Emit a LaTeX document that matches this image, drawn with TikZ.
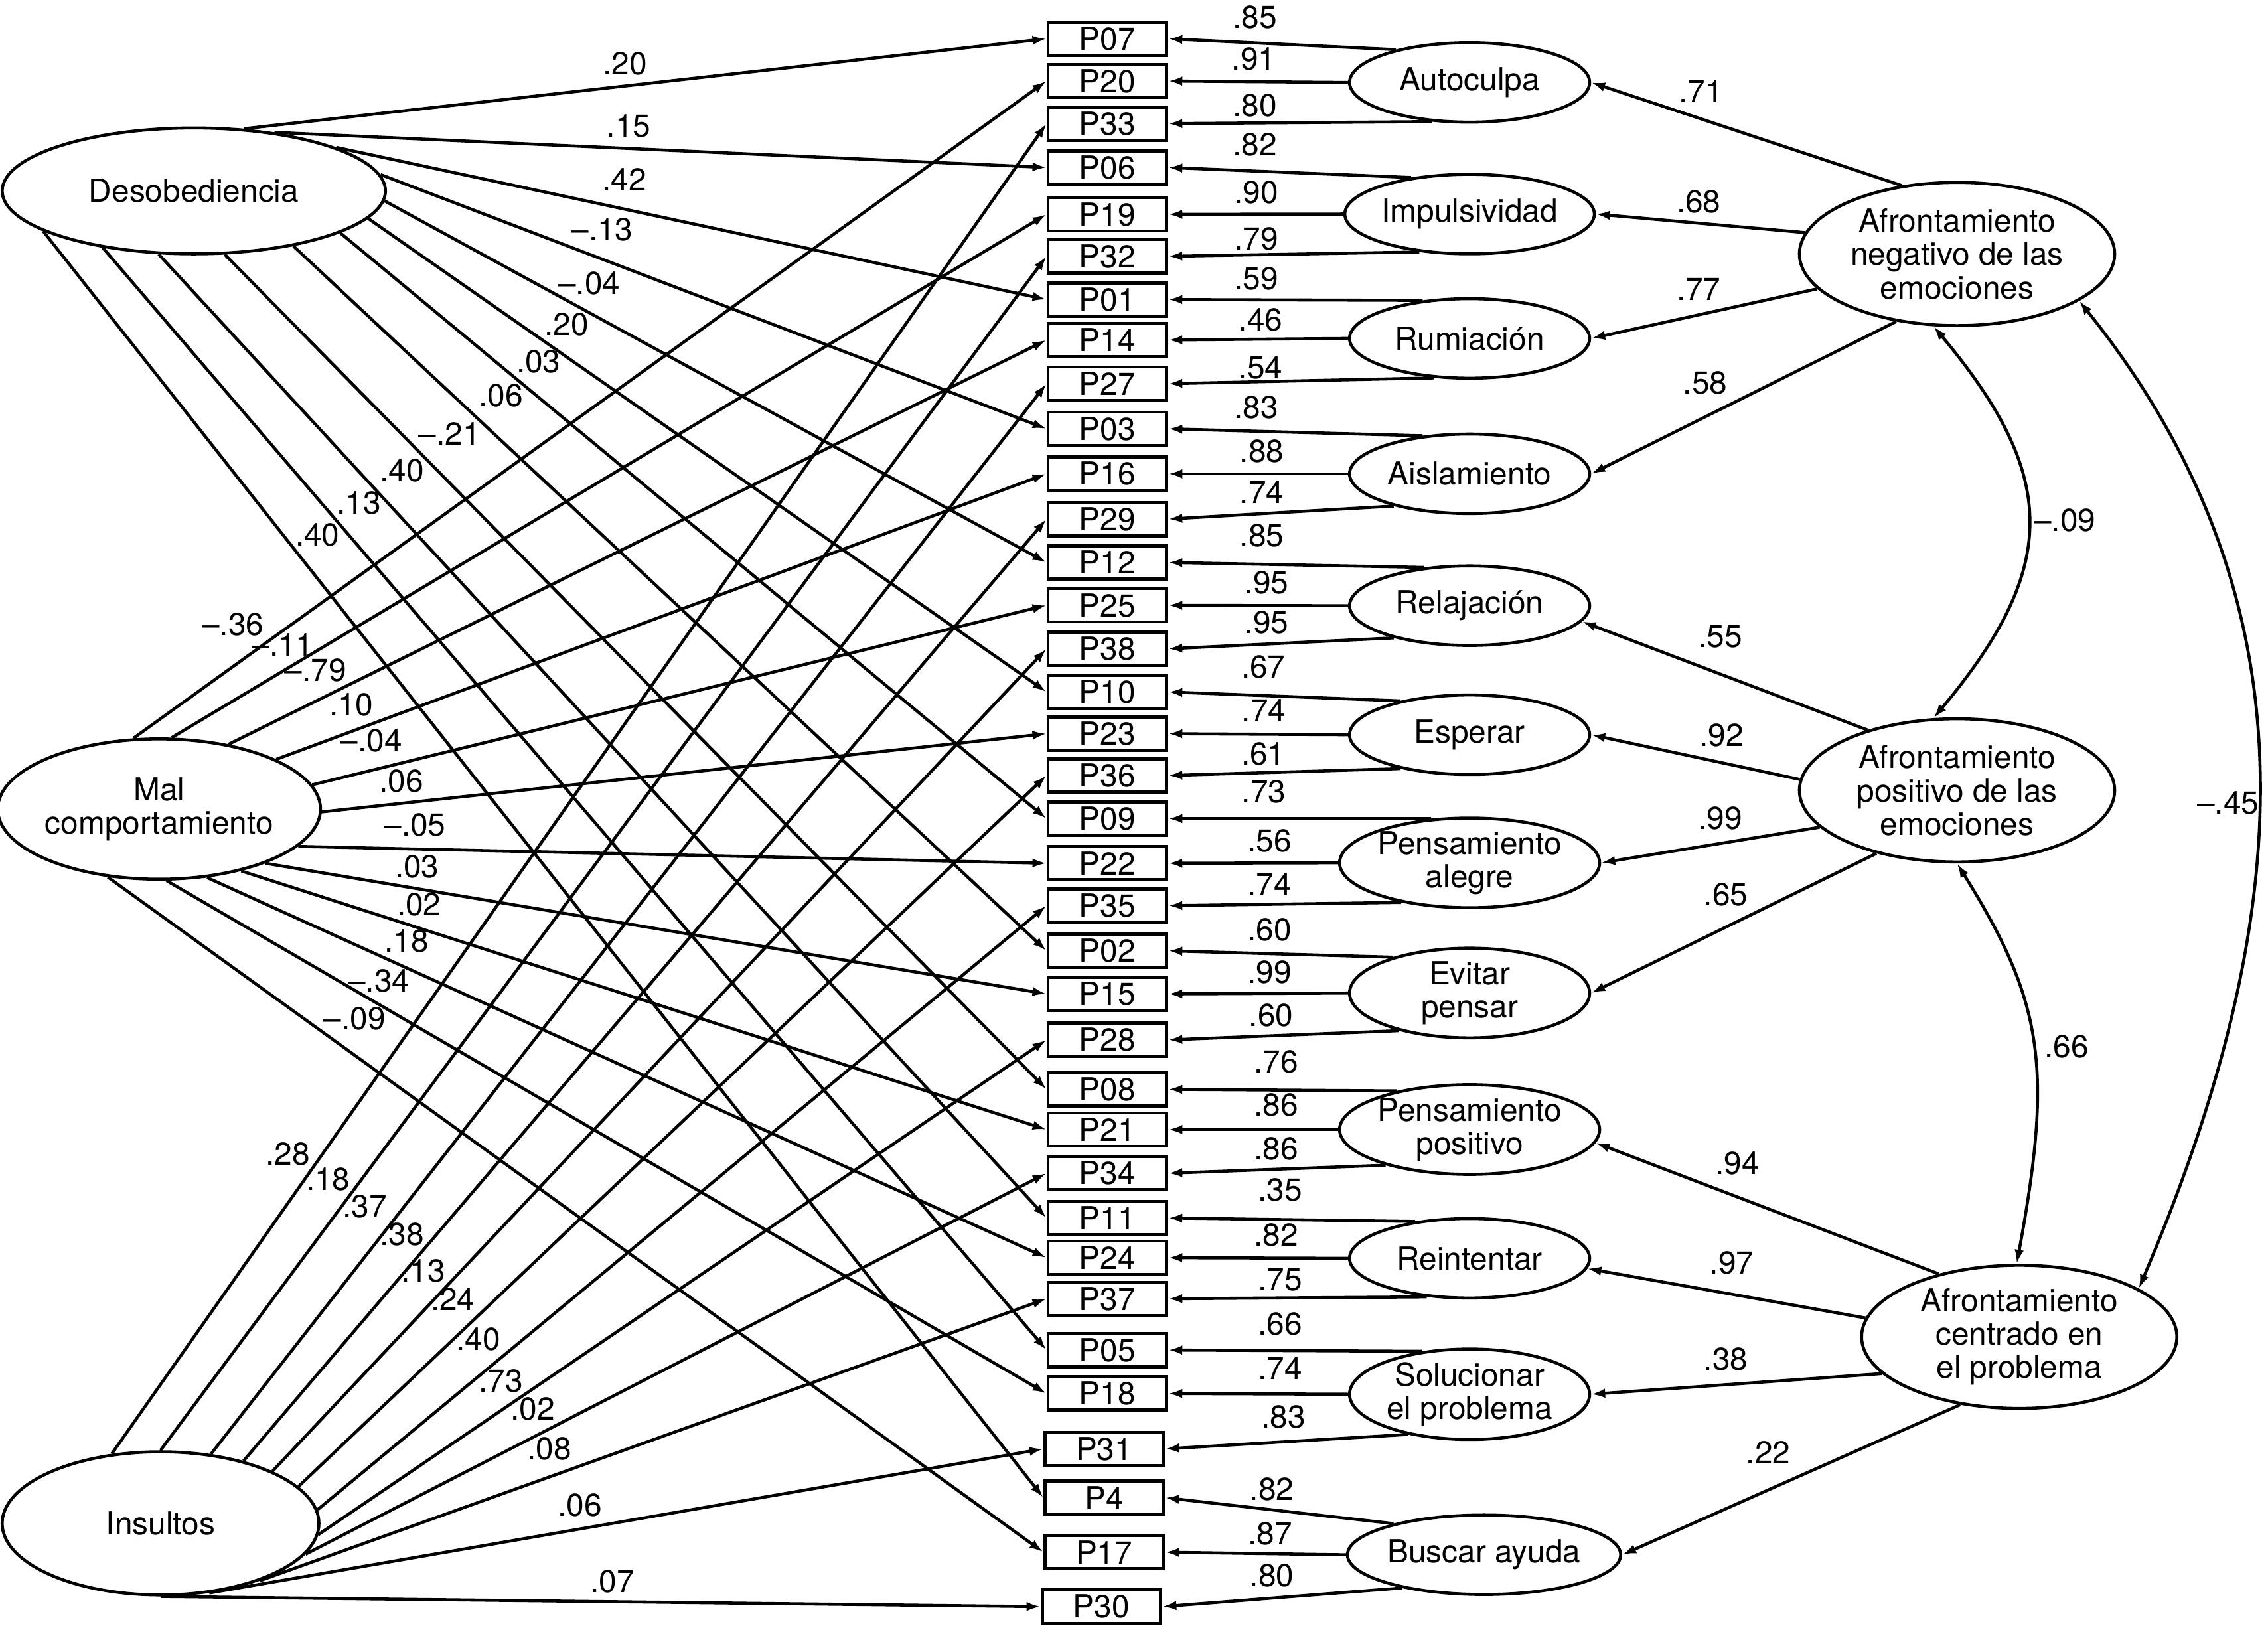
\documentclass[tikz,border=0pt]{standalone}
\usepackage{fontspec}
\setmainfont{TeX Gyre Heros}
\usetikzlibrary{arrows.meta,shapes.geometric}

\tikzset{
  obsbox/.style={draw, line width=1.35pt, rectangle, minimum width=1.787cm, minimum height=0.501cm, inner sep=0pt},
  fac/.style={draw, line width=1.3pt, ellipse, minimum width=3.617cm, minimum height=1.198cm, inner sep=0pt, align=center},
  hfac/.style={draw, line width=1.3pt, ellipse, minimum width=4.75cm, minimum height=2.157cm, inner sep=0pt, align=center},
  exo/.style={draw, line width=1.3pt, ellipse, inner sep=0pt, align=center},
  arr/.style={line width=1.3pt, -{Latex[length=6pt,width=4pt]}},
  cov/.style={line width=1.3pt, {Latex[length=6pt,width=4pt]}-{Latex[length=6pt,width=4pt]}},
  coef/.style={inner sep=0pt}
}

\begin{document}
\begin{tikzpicture}[x=0.02179cm, y=-0.02179cm, font=\fontsize{13.6}{14.3}\selectfont]
    \useasboundingbox (0,0) rectangle (1568,1125.3);

    % observed items
    \node[obsbox] (P07) at (765.6,26.8) {P07};
    \node[obsbox] (P20) at (765.6,56.0) {P20};
    \node[obsbox] (P33) at (765.6,85.5) {P33};
    \node[obsbox] (P06) at (765.6,115.8) {P06};
    \node[obsbox] (P19) at (765.6,148.2) {P19};
    \node[obsbox] (P32) at (765.6,177.2) {P32};
    \node[obsbox] (P01) at (765.6,207.1) {P01};
    \node[obsbox] (P14) at (765.6,235.1) {P14};
    \node[obsbox] (P27) at (765.6,265.3) {P27};
    \node[obsbox] (P03) at (765.6,296.5) {P03};
    \node[obsbox] (P16) at (765.6,327.6) {P16};
    \node[obsbox] (P29) at (765.6,358.9) {P29};
    \node[obsbox] (P12) at (765.6,388.9) {P12};
    \node[obsbox] (P25) at (765.6,418.5) {P25};
    \node[obsbox] (P38) at (765.6,448.6) {P38};
    \node[obsbox] (P10) at (765.6,478.4) {P10};
    \node[obsbox] (P23) at (765.6,507.3) {P23};
    \node[obsbox] (P36) at (765.6,536.2) {P36};
    \node[obsbox] (P09) at (765.6,566.0) {P09};
    \node[obsbox] (P22) at (765.6,596.9) {P22};
    \node[obsbox] (P35) at (765.6,626.2) {P35};
    \node[obsbox] (P02) at (765.6,657.4) {P02};
    \node[obsbox] (P15) at (765.6,687.2) {P15};
    \node[obsbox] (P28) at (765.6,719.0) {P28};
    \node[obsbox] (P08) at (765.6,753.2) {P08};
    \node[obsbox] (P21) at (765.6,781.0) {P21};
    \node[obsbox] (P34) at (765.6,811.2) {P34};
    \node[obsbox] (P11) at (765.6,842.1) {P11};
    \node[obsbox] (P24) at (765.6,869.6) {P24};
    \node[obsbox] (P37) at (765.6,898.0) {P37};
    \node[obsbox] (P05) at (765.6,933.4) {P05};
    \node[obsbox] (P18) at (765.6,963.5) {P18};
    \node[obsbox] (P31) at (763.4,1001.8) {P31};
    \node[obsbox] (P4) at (763.4,1035.5) {P4};
    \node[obsbox] (P17) at (763.4,1073.2) {P17};
    \node[obsbox] (P30) at (761.5,1110.9) {P30};

    % first-order factors
    \node[fac] (auto) at (1016,57) {Autoculpa};
    \node[fac] (impu) at (1016,148) {Impulsividad};
    \node[fac] (rumi) at (1016,234) {Rumiación};
    \node[fac] (aisl) at (1016,327.6) {Aislamiento};
    \node[fac] (rela) at (1016,418.8) {Relajación};
    \node[fac] (espe) at (1016,508) {Esperar};
    \node[fac] (aleg) at (1016,596.6) {Pensamiento\\alegre};
    \node[fac] (evit) at (1016,686.6) {Evitar\\pensar};
    \node[fac] (ppos) at (1016,781) {Pensamiento\\positivo};
    \node[fac] (rein) at (1016,870) {Reintentar};
    \node[fac] (solu) at (1016,964) {Solucionar\\el problema};
    \node[fac, minimum width=3.66cm] (busc) at (1026,1075) {Buscar ayuda};

    % second-order factors
    \node[hfac] (neg) at (1353,175.6) {Afrontamiento\\negativo de las\\emociones};
    \node[hfac] (pos) at (1353,546.5) {Afrontamiento\\positivo de las\\emociones};
    \node[hfac] (prob) at (1396,924.3) {Afrontamiento\\centrado en\\el problema};

    % predictors
    \node[exo, minimum width=5.774cm, minimum height=1.896cm] (deso) at (134,132) {Desobediencia};
    \node[exo, minimum width=4.729cm, minimum height=2.114cm] (mal) at (110,559.4) {Mal\\comportamiento};
    \node[exo, minimum width=4.772cm, minimum height=2.157cm] (ins) at (111,1053.3) {Insultos};

    % Desobediencia
    \draw[arr] (deso.51) -- (P07.west) node[coef] (d1) at (432,44) {.20};
    \draw[arr] (deso.36) -- (P06.west) node[coef] (d2) at (434.6,87.1) {.15};
    \draw[arr] (deso.17) -- (P01.west) node[coef] (d3) at (431.7,124) {.42};
    \draw[arr] (deso.5) -- (P03.west) node[coef] (d4) at (416.2,158.8) {--.13};
    \draw[arr] (deso.-3) -- (P12.west) node[coef] (d5) at (407.4,195.7) {--.04};
    \draw[arr] (deso.-9) -- (P10.west) node[coef] (d6) at (391.6,224.3) {.20};
    \draw[arr] (deso.-16) -- (P09.west) node[coef] (d7) at (372.3,250) {.03};
    \draw[arr] (deso.-29) -- (P02.west) node[coef] (d8) at (346.2,273.5) {.06};
    \draw[arr] (deso.-64) -- (P08.west) node[coef] (d9) at (310.8,300.1) {--.21};
    \draw[arr] (deso.-119) -- (P11.west) node[coef] (d10) at (278,325.2) {.40};
    \draw[arr] (deso.-148) -- (P05.west) node[coef] (d11) at (248.2,347.6) {.13};
    \draw[arr] (deso.-165) -- (P4.west) node[coef] (d12) at (219.5,370) {.40};

    % Mal comportamiento
    \draw[arr] (mal.110) -- (P20.west) node[coef] (m1) at (161,431.9) {--.36};
    \draw[arr] (mal.80) -- (P19.west) node[coef] (m2) at (195.5,446) {--.11};
    \draw[arr] (mal.43) -- (P14.west) node[coef] (m3) at (218,463.5) {--.79};
    \draw[arr] (mal.23) -- (P16.west) node[coef] (m4) at (242.9,487.2) {.10};
    \draw[arr] (mal.9) -- (P25.west) node[coef] (m5) at (256.7,512.2) {--.04};
    \draw[arr] (mal.-1) -- (P23.west) node[coef] (m6) at (277.4,539.9) {.06};
    \draw[arr] (mal.-15) -- (P22.west) node[coef] (m7) at (286.8,570.2) {--.05};
    \draw[arr] (mal.-27) -- (P15.west) node[coef] (m8) at (288.3,599.2) {.03};
    \draw[arr] (mal.-37) -- (P21.west) node[coef] (m9) at (289.7,625.5) {.02};
    \draw[arr] (mal.-55) -- (P24.west) node[coef] (m10) at (281,650.5) {.18};
    \draw[arr] (mal.-84) -- (P18.west) node[coef] (m11) at (261.9,678.2) {--.34};
    \draw[arr] (mal.-127) -- (P17.west) node[coef] (m12) at (245.2,704.5) {--.09};

    % Insultos
    \draw[arr] (ins.125) -- (P33.west) node[coef] (i1) at (199,797.9) {.28};
    \draw[arr] (ins.90) -- (P32.west) node[coef] (i2) at (226.8,815.4) {.18};
    \draw[arr] (ins.54) -- (P27.west) node[coef] (i3) at (252.3,834.1) {.37};
    \draw[arr] (ins.37) -- (P29.west) node[coef] (i4) at (278,853.5) {.38};
    \draw[arr] (ins.25) -- (P38.west) node[coef] (i5) at (292.7,878.5) {.13};
    \draw[arr] (ins.15) -- (P36.west) node[coef] (i6) at (313.1,898.4) {.24};
    \draw[arr] (ins.5) -- (P35.west) node[coef] (i7) at (330.7,925.9) {.40};
    \draw[arr] (ins.-4) -- (P28.west) node[coef] (i8) at (346.2,955.1) {.73};
    \draw[arr] (ins.-12) -- (P34.west) node[coef] (i9) at (368.2,974.3) {.02};
    \draw[arr] (ins.-30) -- (P37.west) node[coef] (i10) at (379.9,1001.7) {.08};
    \draw[arr] (ins.-55) -- (P31.west) node[coef] (i11) at (400.9,1040.6) {.06};
    \draw[arr] (ins.-90) -- (P30.west) node[coef] (i12) at (423.5,1093.5) {.07};

    % loadings
    \draw[arr] (auto.156) -- (P07.east) node[coef] (l1) at (867.5,11.9) {.85};
    \draw[arr] (auto.west) -- (P20.east) node[coef] (l2) at (866.9,40.6) {.91};
    \draw[arr] (auto.-134) -- (P33.east) node[coef] (l3) at (867.5,72.7) {.80};
    \draw[arr] (impu.148) -- (P06.east) node[coef] (l4) at (867.5,100) {.82};
    \draw[arr] (impu.west) -- (P19.east) node[coef] (l5) at (868.4,133.2) {.90};
    \draw[arr] (impu.-143) -- (P32.east) node[coef] (l6) at (868.4,165) {.79};
    \draw[arr] (rumi.141) -- (P01.east) node[coef] (l7) at (868.4,192.6) {.59};
    \draw[arr] (rumi.west) -- (P14.east) node[coef] (l8) at (871.4,221.3) {.46};
    \draw[arr] (rumi.-132) -- (P27.east) node[coef] (l9) at (871.4,254) {.54};
    \draw[arr] (aisl.141) -- (P03.east) node[coef] (l10) at (868.4,281.7) {.83};
    \draw[arr] (aisl.west) -- (P16.east) node[coef] (l11) at (872.3,311.9) {.88};
    \draw[arr] (aisl.-157) -- (P29.east) node[coef] (l12) at (872.3,340.3) {.74};
    \draw[arr] (rela.140) -- (P12.east) node[coef] (l13) at (872.3,370.5) {.85};
    \draw[arr] (rela.west) -- (P25.east) node[coef] (l14) at (875.6,402.7) {.95};
    \draw[arr] (rela.-157) -- (P38.east) node[coef] (l15) at (875.6,430.5) {.95};
    \draw[arr] (espe.154) -- (P10.east) node[coef] (l16) at (873.4,461.2) {.67};
    \draw[arr] (espe.west) -- (P23.east) node[coef] (l17) at (873.8,491.4) {.74};
    \draw[arr] (espe.-154) -- (P36.east) node[coef] (l18) at (873.4,521.2) {.61};
    \draw[arr] (aleg.131) -- (P09.east) node[coef] (l19) at (873.8,547.5) {.73};
    \draw[arr] (aleg.west) -- (P22.east) node[coef] (l20) at (877.7,581.2) {.56};
    \draw[arr] (aleg.-150) -- (P35.east) node[coef] (l21) at (877.7,611.3) {.74};
    \draw[arr] (evit.155) -- (P02.east) node[coef] (l22) at (877.7,642.7) {.60};
    \draw[arr] (evit.west) -- (P15.east) node[coef] (l23) at (877.7,672) {.99};
    \draw[arr] (evit.-152) -- (P28.east) node[coef] (l24) at (878.8,702.1) {.60};
    \draw[arr] (ppos.152) -- (P08.east) node[coef] (l25) at (882.2,734.3) {.76};
    \draw[arr] (ppos.west) -- (P21.east) node[coef] (l26) at (882.2,764.2) {.86};
    \draw[arr] (ppos.-157) -- (P34.east) node[coef] (l27) at (882.2,794.3) {.86};
    \draw[arr] (rein.146) -- (P11.east) node[coef] (l28) at (885.1,822.9) {.35};
    \draw[arr] (rein.west) -- (P24.east) node[coef] (l29) at (882.2,854.1) {.82};
    \draw[arr] (rein.-138) -- (P37.east) node[coef] (l30) at (885.1,884.8) {.75};
    \draw[arr] (solu.138) -- (P05.east) node[coef] (l31) at (885.1,915.4) {.66};
    \draw[arr] (solu.west) -- (P18.east) node[coef] (l32) at (885.1,946.1) {.74};
    \draw[arr] (solu.-147) -- (P31.east) node[coef] (l33) at (887.4,979.5) {.83};
    \draw[arr] (busc.161) -- (P4.east) node[coef] (l34) at (879.2,1029.5) {.82};
    \draw[arr] (busc.west) -- (P17.east) node[coef] (l35) at (878,1060.2) {.87};
    \draw[arr] (busc.-158) -- (P30.east) node[coef] (l36) at (879.2,1089.5) {.80};

    % second-order paths
    \draw[arr] (neg.129.5) -- (auto.east) node[coef] (s1) at (1175.8,63.2) {.71};
    \draw[arr] (neg.172) -- (impu.east) node[coef] (s2) at (1174.4,139.6) {.68};
    \draw[arr] (neg.-166) -- (rumi.east) node[coef] (s3) at (1174.4,200.2) {.77};
    \draw[arr] (neg.-132.6) -- (aisl.east) node[coef] (s4) at (1178.9,264.8) {.58};
    \draw[arr] (pos.146.5) -- (rela.-8) node[coef] (s5) at (1189.2,440.4) {.55};
    \draw[arr] (pos.176) -- (espe.east) node[coef] (s6) at (1190.1,508.5) {.92};
    \draw[arr] (pos.-165) -- (aleg.east) node[coef] (s7) at (1189.2,565.7) {.99};
    \draw[arr] (pos.-142) -- (evit.east) node[coef] (s8) at (1193.1,618.4) {.65};
    \draw[arr] (prob.142) -- (ppos.-6) node[coef] (s9) at (1201.1,804.5) {.94};
    \draw[arr] (prob.173) -- (rein.-5) node[coef] (s10) at (1197.2,873) {.97};
    \draw[arr] (prob.-165) -- (solu.east) node[coef] (s11) at (1193.1,939.7) {.38};
    \draw[arr] (prob.-131) -- (busc.east) node[coef] (s12) at (1222.5,1004.5) {.22};

    % correlations
    \draw[cov] (neg.-108) .. controls +(87,104) and +(87,-104) .. (pos.108);
    \node[coef] (r1) at (1427.4,359.6) {--.09};
    \draw[cov] (pos.-90) .. controls +(60,96) and +(25,-135) .. (prob.92);
    \node[coef] (r2) at (1428.8,723.7) {.66};
    \draw[cov] (neg.-21) .. controls +(160,200) and +(115,-270) .. (prob.22);
    \node[coef] (r3) at (1540.4,555.2) {--.45};
\end{tikzpicture}
\end{document}
